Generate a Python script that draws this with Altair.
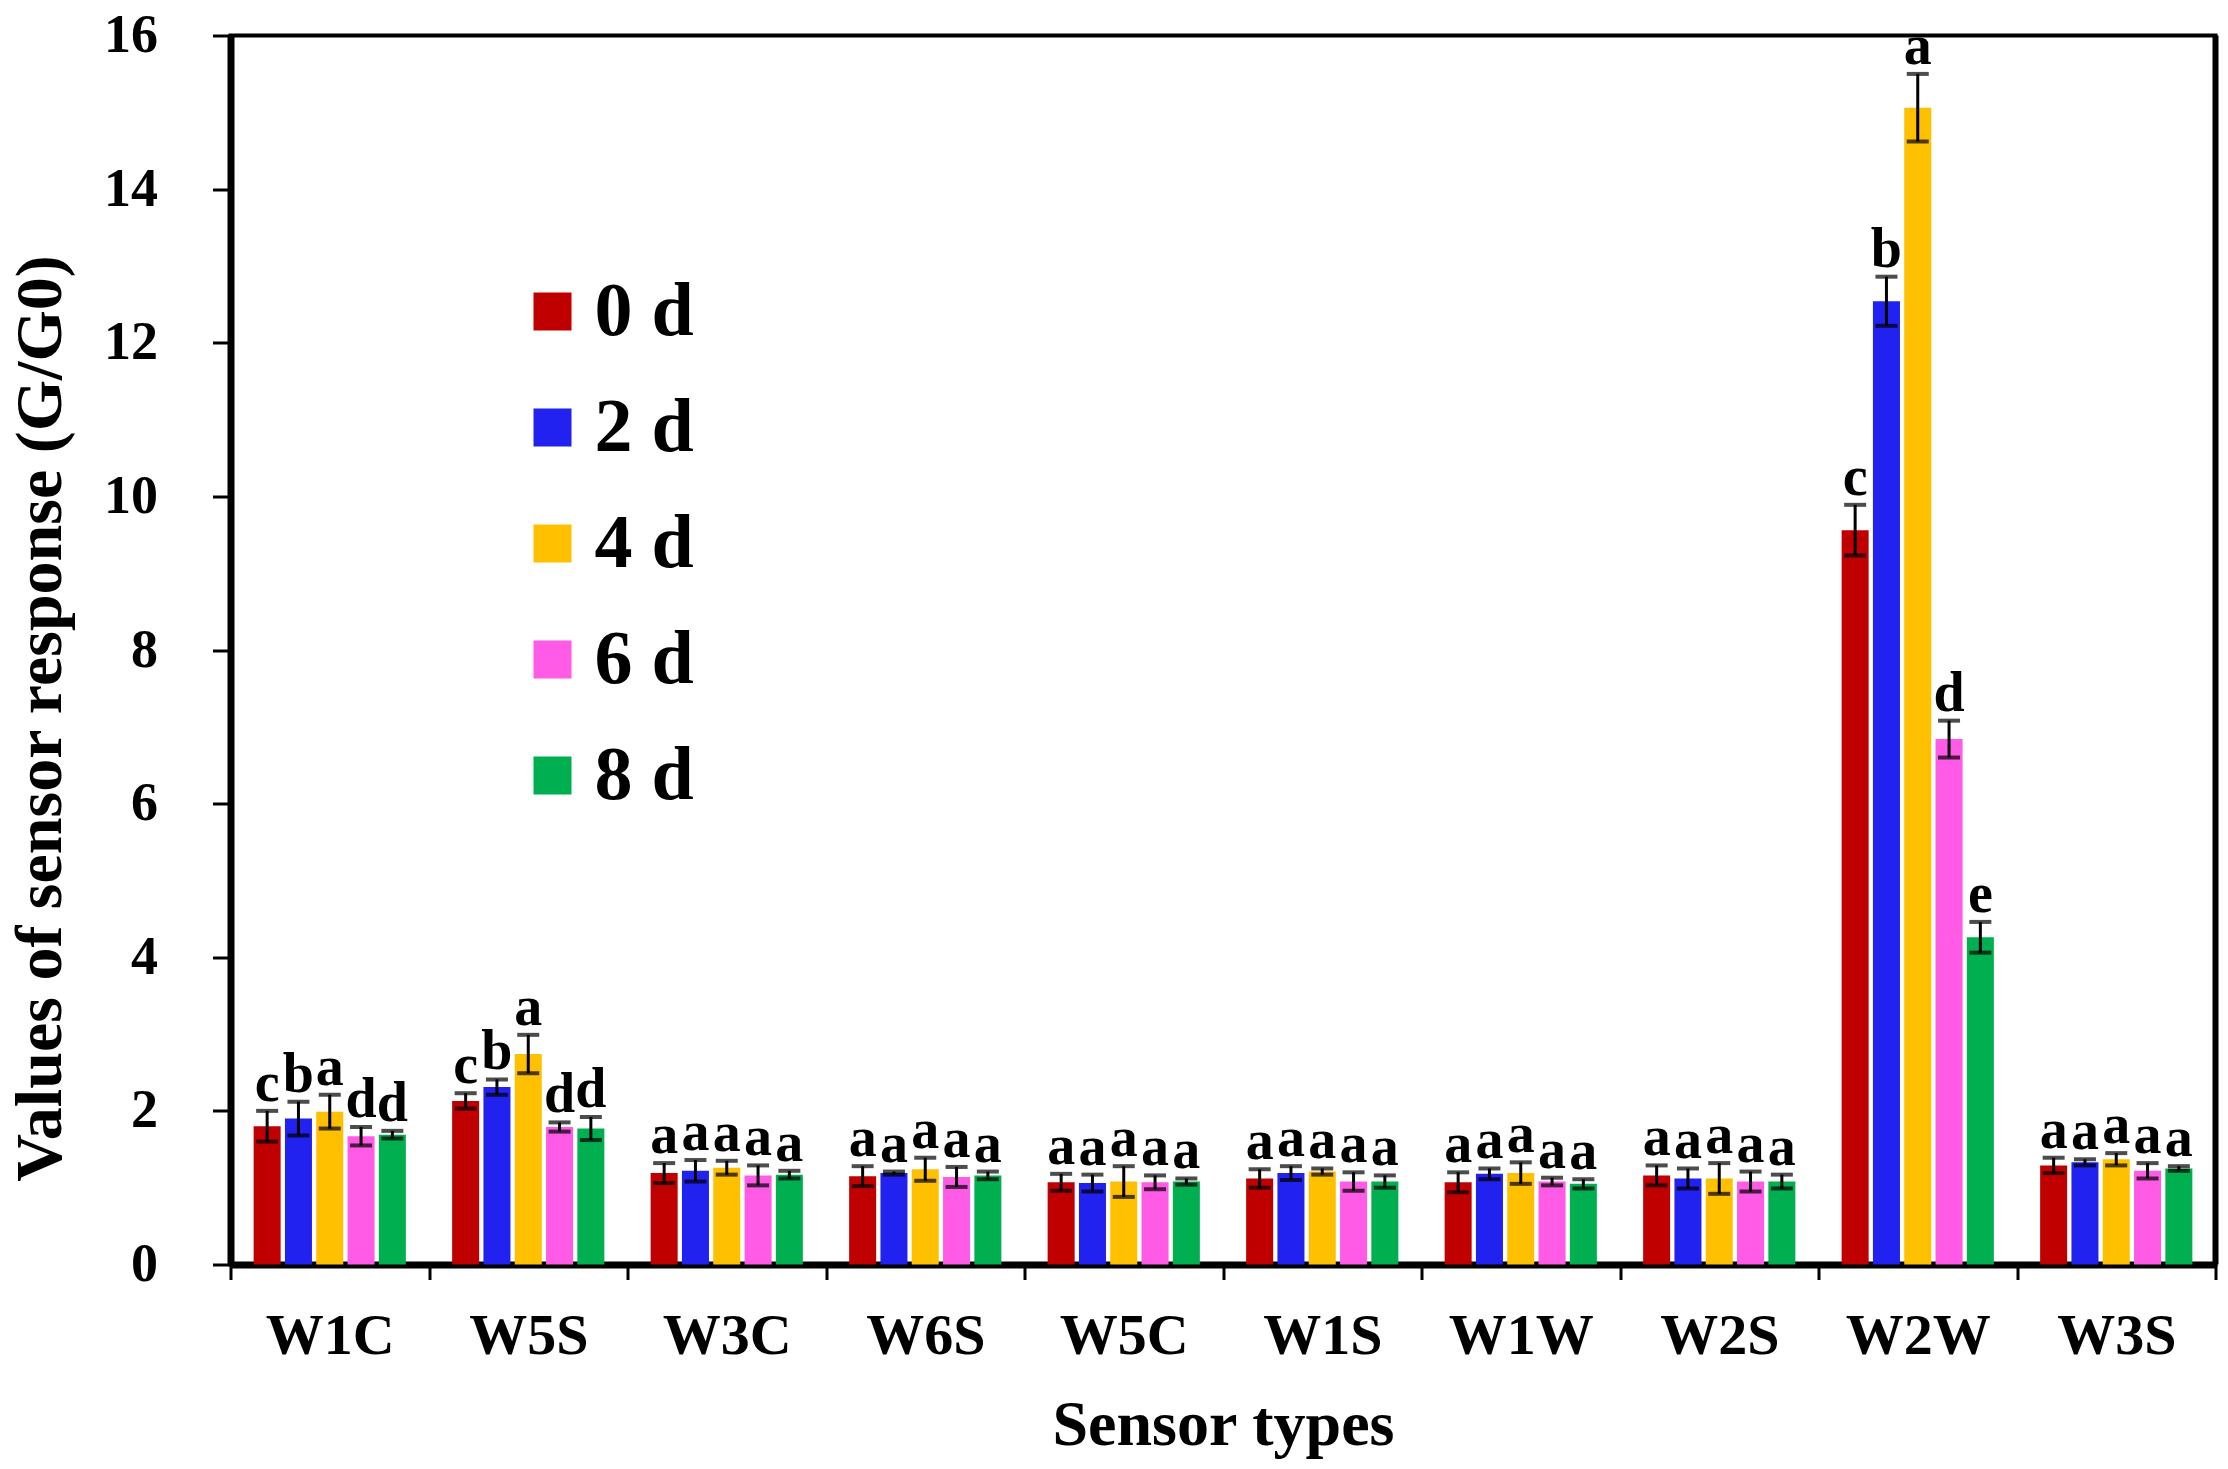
import altair as alt
import pandas as pd

sensors = ["W1C", "W5S", "W3C", "W6S", "W5C", "W1S", "W1W", "W2S", "W2W", "W3S"]
days = ["0 d", "2 d", "4 d", "6 d", "8 d"]
colors = ["#C00000", "#2121F0", "#FFC000", "#FF5BE6", "#00B050"]

mean_0d = [1.80, 2.13, 1.19, 1.15, 1.07, 1.12, 1.07, 1.16, 9.56, 1.29]
mean_2d = [1.90, 2.31, 1.22, 1.19, 1.06, 1.19, 1.18, 1.12, 12.54, 1.33]
mean_4d = [1.99, 2.74, 1.26, 1.24, 1.08, 1.21, 1.19, 1.12, 15.06, 1.37]
mean_6d = [1.67, 1.79, 1.16, 1.14, 1.07, 1.08, 1.08, 1.08, 6.84, 1.22]
mean_8d = [1.69, 1.77, 1.17, 1.16, 1.08, 1.08, 1.05, 1.08, 4.26, 1.25]

err_0d = [0.20, 0.10, 0.13, 0.13, 0.11, 0.12, 0.13, 0.13, 0.33, 0.10]
err_2d = [0.22, 0.10, 0.14, 0.02, 0.11, 0.09, 0.07, 0.13, 0.32, 0.04]
err_4d = [0.22, 0.25, 0.09, 0.15, 0.20, 0.04, 0.14, 0.20, 0.44, 0.08]
err_6d = [0.12, 0.06, 0.13, 0.13, 0.09, 0.12, 0.05, 0.13, 0.24, 0.10]
err_8d = [0.05, 0.15, 0.05, 0.05, 0.04, 0.08, 0.06, 0.09, 0.20, 0.03]

let_0d = ["c", "c", "a", "a", "a", "a", "a", "a", "c", "a"]
let_2d = ["b", "b", "a", "a", "a", "a", "a", "a", "b", "a"]
let_4d = ["a", "a", "a", "a", "a", "a", "a", "a", "a", "a"]
let_6d = ["d", "d", "a", "a", "a", "a", "a", "a", "d", "a"]
let_8d = ["d", "d", "a", "a", "a", "a", "a", "a", "e", "a"]

y_title = ["Values of sensor response (G/G0)"]
x_title = "Sensor types"

means = [mean_0d, mean_2d, mean_4d, mean_6d, mean_8d]
errs = [err_0d, err_2d, err_4d, err_6d, err_8d]
lets = [let_0d, let_2d, let_4d, let_6d, let_8d]

rows = []
for di, d in enumerate(days):
    for si, s in enumerate(sensors):
        m = means[di][si]
        e = errs[di][si]
        rows.append({"sensor": s, "day": d, "mean": m, "lo": m - e, "hi": m + e,
                     "letter": lets[di][si]})
df = pd.DataFrame(rows)

FONT = "Liberation Serif"
W, H = 1985, 1229

xaxis = alt.Axis(title=x_title, labelAngle=0, tickBand="extent",
                 tickSize=15, tickWidth=3, tickColor="black",
                 domainWidth=7, domainColor="black",
                 labelFont=FONT, labelFontSize=58, labelFontWeight="bold",
                 labelColor="black", labelPadding=28,
                 titleFont=FONT, titleFontSize=64, titleFontWeight="bold",
                 titleColor="black", titleBaseline="alphabetic", titleY=180)

yaxis = alt.Axis(title=None,
                 values=list(range(0, 17, 2)), format="d", grid=False,
                 tickSize=18, tickWidth=3, tickColor="black",
                 domainWidth=7, domainColor="black",
                 labelFont=FONT, labelFontSize=54, labelFontWeight="bold",
                 labelColor="black", labelPadding=55)

yscale = alt.Scale(domain=[0, 16], nice=False)

base = alt.Chart(df).encode(
    x=alt.X("sensor:N", sort=sensors,
            scale=alt.Scale(paddingInner=0, paddingOuter=0), axis=xaxis),
    xOffset=alt.XOffset("day:N", sort=days,
                        scale=alt.Scale(paddingInner=0.137, paddingOuter=0.739)),
)

bars = base.mark_bar().encode(
    y=alt.Y("mean:Q", scale=yscale, axis=yaxis),
    color=alt.Color("day:N", sort=days, scale=alt.Scale(domain=days, range=colors),
                    legend=alt.Legend(title=None, orient="none", legendX=284, legendY=238,
                                      symbolType="square", symbolSize=1444,
                                      symbolStrokeWidth=0, labelFont=FONT,
                                      labelFontSize=76, labelFontWeight="bold",
                                      labelColor="black", labelOffset=4,
                                      rowPadding=40, padding=0)),
)

rules = base.mark_rule(color="black", strokeWidth=3).encode(
    y=alt.Y("lo:Q", scale=yscale, axis=yaxis), y2="hi:Q")
cap_hi = base.mark_tick(color="black", thickness=4, size=22).encode(
    y=alt.Y("hi:Q", scale=yscale, axis=yaxis))
cap_lo = base.mark_tick(color="black", thickness=4, size=22).encode(
    y=alt.Y("lo:Q", scale=yscale, axis=yaxis))
letters = base.mark_text(font=FONT, fontSize=56, fontWeight="bold", color="black",
                         baseline="alphabetic", dy=-10).encode(
    y=alt.Y("hi:Q", scale=yscale, axis=yaxis), text="letter:N")

frame = alt.Chart(pd.DataFrame({"k": [0]})).mark_rule(color="black", strokeWidth=6).encode(
    x=alt.value(W), y=alt.value(0), y2=alt.value(H))

ytitle = alt.Chart(pd.DataFrame({"t": y_title})).mark_text(
    font=FONT, fontSize=66, fontWeight="bold", color="black", angle=270,
    align="center", baseline="alphabetic").encode(
    text="t:N", x=alt.value(-170), y=alt.value(683))

chart = alt.layer(bars, rules, cap_hi, cap_lo, letters, frame, ytitle).properties(
    width=W, height=H,
    padding={"left": 222.5, "top": 27.5, "right": 4, "bottom": 196},
    autosize=alt.AutoSizeParams(type="none"),
    background="white",
).configure_view(stroke="black", strokeWidth=4)

chart.save("out.html", embed_options={"renderer": "svg", "actions": False})
